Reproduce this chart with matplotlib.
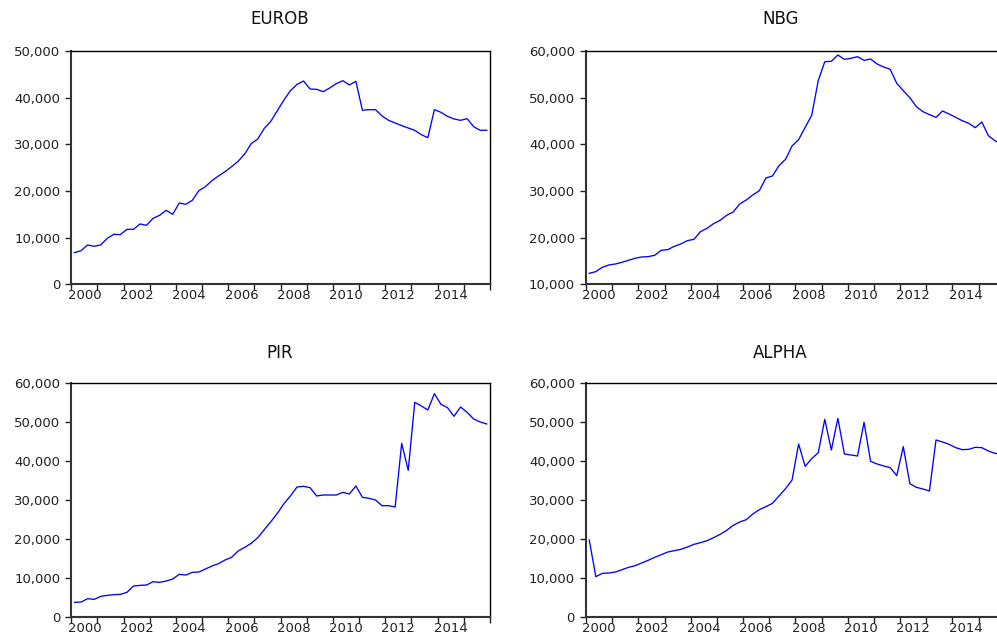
import numpy as np
import matplotlib
matplotlib.use("Agg")
import matplotlib.pyplot as plt
from matplotlib.ticker import FuncFormatter, FixedLocator, NullFormatter

plt.rcParams['font.family'] = ['DejaVu Sans']

# Quarterly observations, 2000Q1 - 2015Q4
start_year = 2000
n_quarters = 64

eurob = [6786, 7214, 8430, 8143, 8430, 9857, 10714, 10643,
         11786, 11786, 12929, 12643, 14143, 14786, 15857, 15000,
         17429, 17143, 18000, 20071, 20929, 22214, 23214, 24143,
         25214, 26357, 27929, 30143, 31143, 33429, 34929, 37214,
         39500, 41500, 42857, 43571, 41857, 41786, 41286, 42071,
         43000, 43643, 42714, 43500, 37286, 37429, 37429, 36071,
         35143, 34571, 34000, 33500, 33000, 32071, 31429, 37429,
         36857, 36000, 35429, 35143, 35500, 33786, 33000, 33000]

nbg = [12357, 12714, 13643, 14143, 14357, 14714, 15143, 15571,
       15857, 15929, 16214, 17286, 17429, 18143, 18643, 19357,
       19643, 21286, 22000, 23000, 23714, 24786, 25500, 27214,
       28071, 29143, 30071, 32786, 33214, 35429, 36786, 39643,
       41000, 43643, 46214, 53643, 57714, 57786, 59143, 58214,
       58429, 58786, 58000, 58286, 57214, 56571, 56071, 53071,
       51500, 50000, 48071, 47000, 46357, 45786, 47143, 46500,
       45786, 45071, 44500, 43571, 44786, 41857, 40786, 40000]

pir = [3686, 3771, 4629, 4457, 5229, 5486, 5657, 5743,
       6257, 7886, 8057, 8143, 9000, 8829, 9171, 9686,
       10886, 10714, 11400, 11486, 12257, 13029, 13629, 14571,
       15257, 16886, 17829, 18857, 20314, 22371, 24429, 26571,
       29057, 31029, 33343, 33514, 33171, 31029, 31286, 31286,
       31286, 31971, 31543, 33600, 30686, 30429, 30000, 28543,
       28543, 28200, 44571, 37629, 55114, 54171, 53143, 57343,
       54600, 53743, 51514, 53914, 52543, 50829, 50057, 49543]

alpha = [19714, 10286, 11143, 11229, 11486, 12086, 12686, 13114,
         13800, 14486, 15257, 15943, 16629, 16971, 17314, 17914,
         18600, 19029, 19543, 20314, 21171, 22200, 23486, 24343,
         24943, 26400, 27514, 28286, 29143, 31029, 32914, 35143,
         44400, 38657, 40629, 42171, 50743, 42857, 51000, 41829,
         41571, 41314, 49971, 39943, 39257, 38743, 38314, 36257,
         43714, 34200, 33257, 32829, 32314, 45429, 44914, 44314,
         43457, 42943, 43029, 43543, 43457, 42600, 42000, 41700]

titles = ["EUROB", "NBG", "PIR", "ALPHA"]
series = [eurob, nbg, pir, alpha]
y_limits = [(0, 50000), (10000, 60000), (0, 60000), (0, 60000)]
label_years = [2000, 2002, 2004, 2006, 2008, 2010, 2012, 2014]

W, H = 997, 636
fig = plt.figure(figsize=(W / 100, H / 100), dpi=100)

# panel frames in pixels: (left, top, right, bottom)
frames = [(71.3, 51.0, 490.0, 284.3),
          (586.0, 51.0, 1004.7, 284.3),
          (71.3, 383.3, 490.0, 616.7),
          (586.0, 383.3, 1004.7, 616.7)]
title_pos = [(280, 19), (781, 19), (280, 353), (780, 353)]

x = np.arange(n_quarters)
n_years = n_quarters // 4

for (l, t, r, b), title, vals, ylim, (tx, ty) in zip(frames, titles, series,
                                                     y_limits, title_pos):
    ax = fig.add_axes([l / W, 1 - b / H, (r - l) / W, (b - t) / H])
    ax.plot(x, vals, color="#0000ff", lw=0.95)
    ax.set_xlim(-0.5, n_quarters - 0.5)
    ax.set_ylim(*ylim)
    ax.set_yticks(np.arange(ylim[0], ylim[1] + 1, 10000))
    ax.yaxis.set_major_formatter(FuncFormatter(lambda v, p: f"{v:,.0f}"))

    # year boundaries carry the tick marks, year midpoints carry the labels
    ax.xaxis.set_major_locator(FixedLocator(np.arange(n_years + 1) * 4 - 0.5))
    ax.xaxis.set_major_formatter(NullFormatter())
    mids = [(yr - start_year) * 4 + 1.5 for yr in label_years]
    ax.xaxis.set_minor_locator(FixedLocator(mids))
    ax.set_xticklabels([str(yr) for yr in label_years], minor=True)

    ax.tick_params(axis="y", which="major", direction="out", length=4.5,
                   width=1.0, pad=3.5, labelsize=9.5, colors="#222222")
    ax.tick_params(axis="x", which="major", direction="out", length=4.0,
                   width=1.0, colors="#222222")
    ax.tick_params(axis="x", which="minor", length=0, pad=3.5,
                   labelsize=9.5, labelcolor="#222222")

    for side in ("left", "bottom"):
        ax.spines[side].set_linewidth(1.5)
        ax.spines[side].set_color("#333333")
    for side in ("top", "right"):
        ax.spines[side].set_linewidth(1.0)
        ax.spines[side].set_color("#000000")

    fig.text(tx / W, 1 - ty / H, title, ha="center", va="center",
             fontsize=12, color="#111111")

fig.savefig("out.png", dpi=100)
